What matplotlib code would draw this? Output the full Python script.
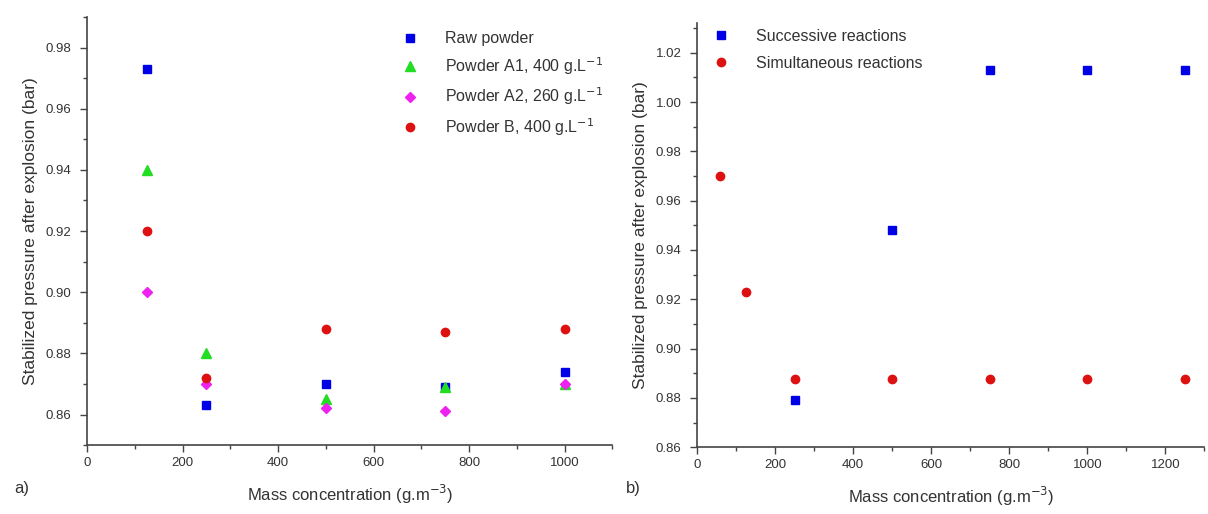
import numpy as np
import matplotlib
matplotlib.use("Agg")
import matplotlib.pyplot as plt
from matplotlib.ticker import MultipleLocator

plt.rcParams['font.family'] = ['Liberation Sans', 'DejaVu Sans']

# panel a) data
conc_a = [125, 250, 500, 750, 1000]
raw_powder = [0.973, 0.863, 0.870, 0.869, 0.874]
powder_a1 = [0.940, 0.880, 0.865, 0.869, 0.870]
powder_a2 = [0.900, 0.870, 0.862, 0.861, 0.870]
powder_b = [0.920, 0.872, 0.888, 0.887, 0.888]

# panel b) data
conc_succ = [250, 500, 750, 1000, 1250]
successive = [0.879, 0.948, 1.013, 1.013, 1.013]
conc_simu = [60, 125, 250, 500, 750, 1000, 1250]
simultaneous = [0.970, 0.923, 0.8875, 0.8875, 0.8875, 0.8875, 0.8875]

txt = '#333333'
fig = plt.figure(figsize=(12.08, 5.14), dpi=100)
ax1 = fig.add_axes([0.072, 0.134, 0.435, 0.833])
ax2 = fig.add_axes([0.577, 0.130, 0.42, 0.825])

ms = 6
ax1.plot(conc_a, raw_powder, 's', color='#0000e6', ms=ms, label='Raw powder')
ax1.plot(conc_a, powder_a1, '^', color='#22dd22', ms=ms + 1, label='Powder A1, 400 g.L$^{-1}$')
ax1.plot(conc_a, powder_a2, 'D', color='#ee22ee', ms=ms - 0.5, label='Powder A2, 260 g.L$^{-1}$')
ax1.plot(conc_a, powder_b, 'o', color='#dd1111', ms=ms, label='Powder B, 400 g.L$^{-1}$')
ax1.set_xlim(0, 1100)
ax1.set_ylim(0.85, 0.99)
ax1.xaxis.set_major_locator(MultipleLocator(200))
ax1.xaxis.set_minor_locator(MultipleLocator(100))
ax1.yaxis.set_minor_locator(MultipleLocator(0.01))
ax1.set_yticks(np.arange(0.86, 0.985, 0.02))
ax1.legend(loc='upper right', frameon=False, fontsize=11.5, handletextpad=1.6, handlelength=1.2,
           labelspacing=0.55, bbox_to_anchor=(1.01, 1.0), labelcolor=txt)

ax2.plot(conc_succ, successive, 's', color='#0000e6', ms=ms, label='Successive reactions')
ax2.plot(conc_simu, simultaneous, 'o', color='#dd1111', ms=ms, label='Simultaneous reactions')
ax2.set_xlim(0, 1300)
ax2.set_ylim(0.86, 1.032)
ax2.xaxis.set_major_locator(MultipleLocator(200))
ax2.xaxis.set_minor_locator(MultipleLocator(100))
ax2.yaxis.set_minor_locator(MultipleLocator(0.01))
ax2.set_yticks(np.arange(0.86, 1.025, 0.02))
ax2.legend(loc='upper left', frameon=False, fontsize=11.5, handletextpad=1.6, handlelength=1.2,
           labelspacing=0.75, bbox_to_anchor=(0.0, 1.02), labelcolor=txt)

for ax in (ax1, ax2):
    ax.spines['top'].set_visible(False)
    ax.spines['right'].set_visible(False)
    for s in ('left', 'bottom'):
        ax.spines[s].set_color('#444444')
        ax.spines[s].set_linewidth(1.2)
    ax.tick_params(which='major', length=5, width=1, colors='#444444', labelsize=9.5, labelcolor=txt)
    ax.tick_params(which='minor', length=3, width=1, colors='#444444')
    ax.tick_params(axis='y', which='major', pad=6)
    ax.yaxis.set_major_formatter(plt.FuncFormatter(lambda v, p: f'{v:.2f}'))
    ax.set_xlabel('Mass concentration (g.m$^{-3}$)', fontsize=12, color=txt, labelpad=10)
    ax.set_ylabel('Stabilized pressure after explosion (bar)', fontsize=12.5, color=txt, labelpad=6)

fig.text(0.012, 0.04, 'a)', fontsize=12, color=txt)
fig.text(0.518, 0.04, 'b)', fontsize=12, color=txt)

fig.savefig('out.png', dpi=100)
